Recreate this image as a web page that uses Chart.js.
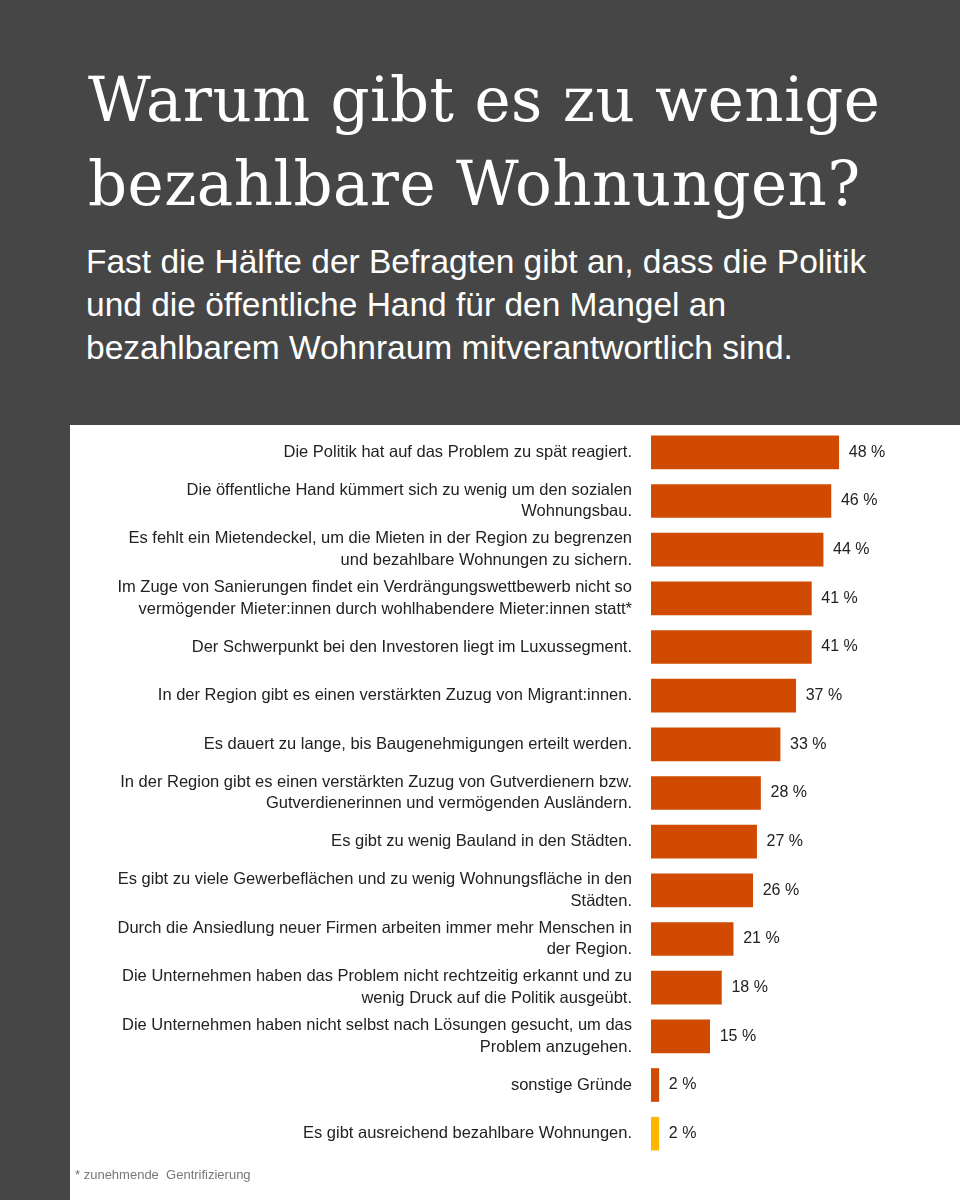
<!DOCTYPE html>
<html><head><meta charset="utf-8">
<script src="https://cdn.jsdelivr.net/npm/chart.js@4"></script>
<style>
body{margin:0;width:960px;height:1200px;background:#464646;position:relative;overflow:hidden}
h1{position:absolute;left:88px;top:58px;margin:0;font-family:"DejaVu Serif","Liberation Serif",serif;font-weight:normal;font-size:61px;line-height:84px;color:#fff;letter-spacing:0.5px}
.sub{position:absolute;left:86px;top:240px;width:790px;font-family:"Liberation Sans",Arial,sans-serif;font-size:33.5px;line-height:43px;color:#fff}
.panel{position:absolute;left:70px;top:425px;width:890px;height:775px;background:#fff}
.foot{position:absolute;left:5px;top:742px;font-family:"Liberation Sans",Arial,sans-serif;font-size:13px;color:#777}
</style></head><body>
<h1>Warum gibt es zu wenige<br>bezahlbare Wohnungen?</h1>
<div class="sub">Fast die Hälfte der Befragten gibt an, dass die Politik und die öffentliche Hand für den Mangel an bezahlbarem Wohnraum mitverantwortlich sind.</div>
<div class="panel"><canvas id="c" width="890" height="775"></canvas><div class="foot">* zunehmende&nbsp; Gentrifizierung</div></div>
<script>
const categories=[
["Die Politik hat auf das Problem zu spät reagiert."],
["Die öffentliche Hand kümmert sich zu wenig um den sozialen","Wohnungsbau."],
["Es fehlt ein Mietendeckel, um die Mieten in der Region zu begrenzen","und bezahlbare Wohnungen zu sichern."],
["Im Zuge von Sanierungen findet ein Verdrängungswettbewerb nicht so","vermögender Mieter:innen durch wohlhabendere Mieter:innen statt*"],
["Der Schwerpunkt bei den Investoren liegt im Luxussegment."],
["In der Region gibt es einen verstärkten Zuzug von Migrant:innen."],
["Es dauert zu lange, bis Baugenehmigungen erteilt werden."],
["In der Region gibt es einen verstärkten Zuzug von Gutverdienern bzw.","Gutverdienerinnen und vermögenden Ausländern."],
["Es gibt zu wenig Bauland in den Städten."],
["Es gibt zu viele Gewerbeflächen und zu wenig Wohnungsfläche in den","Städten."],
["Durch die Ansiedlung neuer Firmen arbeiten immer mehr Menschen in","der Region."],
["Die Unternehmen haben das Problem nicht rechtzeitig erkannt und zu","wenig Druck auf die Politik ausgeübt."],
["Die Unternehmen haben nicht selbst nach Lösungen gesucht, um das","Problem anzugehen."],
["sonstige Gründe"],
["Es gibt ausreichend bezahlbare Wohnungen."]];
const values=[48,46,44,41,41,37,33,28,27,26,21,18,15,2,2];
const colors=values.map((v,i)=>i===14?"#FFB600":"#D04A02");
const valLabels={id:"vl",afterDatasetsDraw(ch){const ctx=ch.ctx;ctx.save();ctx.font='16px "Liberation Sans",Arial,sans-serif';ctx.fillStyle="#222";ctx.textBaseline="middle";
ch.getDatasetMeta(0).data.forEach((b,i)=>{ctx.fillText(values[i]+" %",b.x+10,b.y);});ctx.restore();}};
new Chart(document.getElementById("c"),{type:"bar",
data:{labels:categories,datasets:[{data:values,backgroundColor:colors,barThickness:33}]},
options:{indexAxis:"y",responsive:false,animation:false,
layout:{padding:{top:3,bottom:42,left:0,right:0}},
plugins:{legend:{display:false},tooltip:{enabled:false}},
scales:{x:{display:false,min:0,max:79},
y:{grid:{display:false},border:{display:false},
afterFit(s){s.width=581;s.paddingTop=0;s.paddingBottom=0;},
ticks:{padding:11,color:"#222",font:{family:'"Liberation Sans",Arial,sans-serif',size:16.5,lineHeight:1.3}}}}},
plugins:[valLabels]});
</script></body></html>
